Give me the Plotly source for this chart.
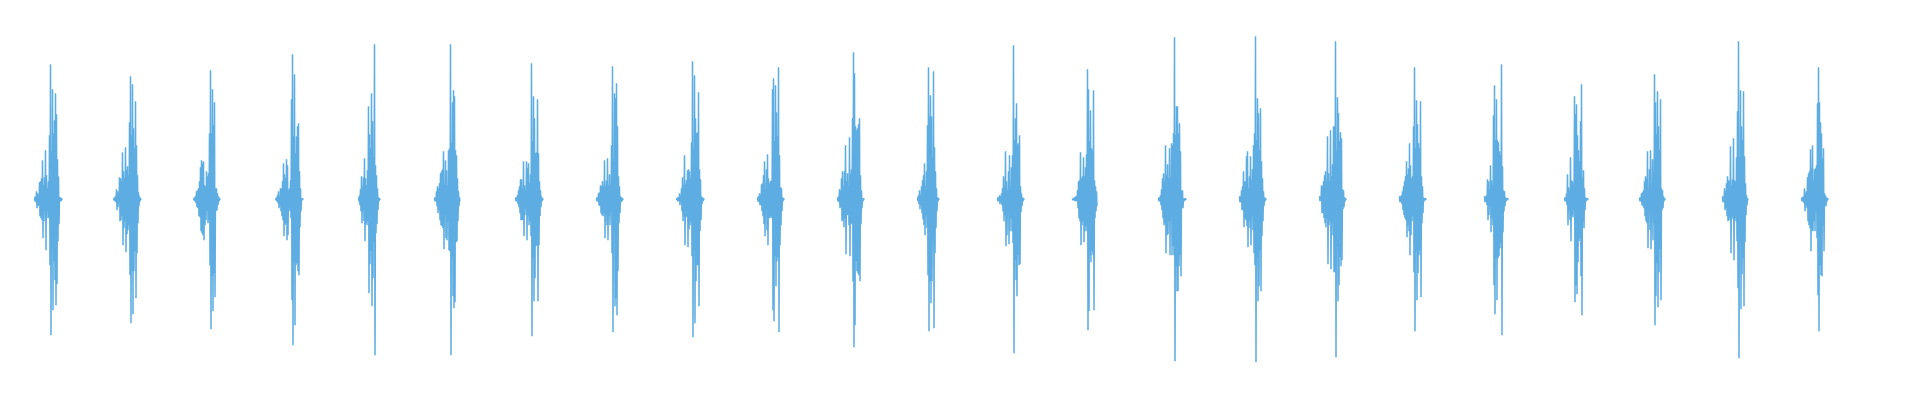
"""Waveform of 23 repeated bursts, drawn as a thin line."""

import plotly.graph_objects as go

# onset of each burst (time units, one unit per column)
onsets = [34, 113, 193, 275, 358, 434, 515, 596, 676, 757, 837, 917,
          997, 1072, 1158, 1239, 1319, 1399, 1484, 1564, 1639, 1722, 1801]

# signed sample values per burst (two samples per time unit)
burst_01 = [2, -2, 3, -3, 8, -9, 6, -7, 4, -6, 17, -17, 18, -19, 21, -21, 39, -39, 14, -12, 22, -22, 49, -51, 24, -12, 11, -19, 18, -18, 64, -66, 135, -136, 48, -49, 110, -111, 66, -62, 79, -81, 106, -106, 85, -85, 40, -42, 23, -25, 2, -2, 2, -2, 1, -1]
burst_02 = [1, -1, 2, -2, 3, -3, 10, -11, 8, -8, 4, -4, 22, -22, 21, -21, 18, -17, 47, -46, 28, -29, 21, -22, 52, -53, 29, -35, 33, -31, 24, -26, 77, -76, 123, -124, 64, -72, 115, -115, 71, -72, 51, -52, 98, -99, 54, -54, 24, -24, 7, -7, 3, -2, 1, -1]
burst_03 = [1, -1, 2, -2, 3, -4, 8, -8, 9, -9, 11, -17, 18, -18, 32, -32, 39, -34, 36, -36, 38, -41, 14, -26, 13, -21, 28, -12, 23, -24, 26, -21, 66, -66, 129, -130, 66, -77, 110, -112, 74, -74, 97, -98, 11, -12, 11, -11, 6, -6, 3, -2, 1, -1]
burst_04 = [1, -1, 2, -2, 4, -4, 8, -9, 3, -6, 11, -12, 11, -17, 18, -21, 36, -37, 25, -26, 21, -24, 40, -41, 34, -36, 9, -9, 11, -12, 19, -19, 100, -101, 145, -146, 63, -62, 125, -126, 46, -66, 63, -64, 73, -72, 76, -76, 28, -28, 11, -12, 1, -1, 1, -1]
burst_05 = [2, -2, 4, -6, 10, -12, 23, -24, 13, -12, 22, -22, 41, -42, 21, -24, 14, -26, 29, -22, 93, -94, 65, -65, 51, -52, 106, -107, 78, -79, 42, -42, 155, -156, 34, -34, 24, -25, 11, -11, 2, -2, 1, -1]
burst_06 = [2, -2, 2, -2, 8, -7, 13, -14, 11, -11, 16, -21, 26, -26, 28, -27, 30, -29, 48, -50, 14, -16, 39, -39, 29, -41, 14, -22, 49, -51, 51, -52, 155, -156, 56, -57, 97, -97, 109, -109, 103, -103, 49, -43, 44, -42, 21, -22, 8, -7, 2, -2]
burst_07 = [2, -2, 2, -2, 4, -5, 9, -8, 13, -14, 20, -21, 20, -21, 11, -21, 38, -37, 14, -16, 9, -9, 38, -41, 31, -17, 36, -26, 16, -22, 25, -37, 136, -137, 58, -58, 103, -102, 81, -79, 46, -47, 47, -46, 100, -102, 46, -46, 18, -17, 9, -8, 3, -2, 1, -1]
burst_08 = [2, -2, 2, -2, 6, -6, 7, -7, 14, -14, 13, -16, 18, -17, 13, -14, 39, -39, 13, -16, 19, -26, 41, -41, 14, -17, 25, -26, 9, -12, 54, -54, 133, -133, 38, -24, 106, -107, 101, -99, 116, -116, 73, -72, 23, -24, 13, -14, 3, -3, 2, -2, 1, -1]
burst_09 = [1, -1, 2, -2, 2, -2, 6, -6, 3, -3, 11, -12, 22, -22, 14, -17, 44, -46, 15, -17, 19, -18, 29, -48, 30, -30, 28, -26, 21, -22, 57, -57, 138, -138, 51, -52, 124, -124, 81, -82, 66, -66, 67, -66, 107, -107, 30, -32, 20, -21, 3, -5, 2, -2, 1, -1]
burst_10 = [2, -2, 3, -3, 6, -6, 4, -6, 15, -12, 16, -17, 24, -25, 38, -37, 9, -11, 30, -31, 45, -46, 21, -18, 16, -19, 18, -17, 19, -19, 110, -111, 121, -122, 58, -57, 114, -87, 87, -62, 63, -58, 132, -133, 44, -46, 12, -26, 11, -12, 2, -2, 1, -1]
burst_11 = [2, -2, 3, -3, 10, -9, 8, -8, 21, -22, 28, -21, 13, -28, 28, -19, 54, -55, 18, -16, 26, -16, 13, -26, 62, -57, 26, -24, 30, -25, 81, -82, 147, -148, 126, -126, 73, -62, 69, -72, 71, -74, 75, -76, 81, -82, 24, -25, 9, -9, 1, -2, 1, -1]
burst_12 = [2, -2, 4, -5, 9, -10, 4, -6, 13, -14, 19, -20, 24, -26, 36, -36, 13, -16, 28, -29, 74, -76, 132, -132, 83, -82, 104, -104, 83, -82, 41, -41, 128, -129, 52, -54, 28, -29, 11, -12, 2, -2, 1, -1]
burst_13 = [2, -2, 2, -2, 4, -5, 3, -3, 6, -6, 11, -12, 23, -22, 13, -16, 48, -47, 18, -36, 9, -11, 28, -45, 44, -32, 14, -19, 32, -32, 44, -44, 154, -154, 59, -61, 81, -81, 96, -97, 55, -56, 56, -66, 64, -65, 13, -13, 6, -7, 2, -2, 1, -1]
burst_14 = [1, -1, 1, -1, 2, -2, 3, -2, 3, -2, 9, -9, 18, -19, 19, -22, 47, -46, 21, -26, 23, -22, 42, -43, 23, -32, 32, -27, 45, -32, 130, -131, 110, -112, 58, -56, 89, -63, 51, -52, 49, -56, 109, -111, 19, -19, 13, -12, 8, -7]
burst_15 = [2, -2, 2, -2, 4, -6, 10, -11, 21, -19, 26, -26, 18, -24, 54, -54, 24, -36, 35, -35, 21, -22, 51, -56, 21, -19, 56, -56, 54, -47, 66, -56, 162, -162, 64, -67, 93, -92, 93, -92, 66, -67, 76, -56, 48, -77, 9, -8, 9, -9, 1, -2, 1, -1, 1, -1]
burst_16 = [3, -3, 3, -3, 9, -11, 13, -11, 28, -28, 18, -19, 18, -21, 43, -27, 48, -48, 11, -21, 23, -29, 43, -46, 19, -17, 30, -31, 54, -54, 66, -66, 163, -163, 59, -59, 101, -102, 86, -87, 49, -51, 91, -92, 38, -37, 21, -22, 8, -7, 2, -2, 1, -1]
burst_17 = [3, -2, 3, -2, 14, -14, 13, -14, 18, -19, 24, -24, 28, -28, 18, -19, 63, -65, 26, -26, 18, -22, 69, -70, 23, -24, 35, -36, 73, -73, 73, -73, 158, -158, 48, -48, 102, -102, 86, -86, 58, -58, 67, -67, 61, -61, 10, -10, 9, -8, 2, -2, 1, -1]
burst_18 = [3, -3, 3, -3, 4, -5, 8, -11, 13, -16, 18, -19, 23, -21, 38, -38, 25, -26, 31, -32, 56, -56, 34, -36, 21, -22, 23, -17, 73, -73, 132, -132, 51, -51, 99, -101, 75, -74, 56, -56, 51, -51, 98, -98, 23, -24, 13, -14, 2, -2, 1, -1, 1, -1]
burst_19 = [3, -3, 3, -3, 4, -6, 20, -21, 18, -16, 9, -7, 34, -33, 19, -19, 14, -26, 84, -86, 114, -115, 59, -59, 100, -101, 59, -59, 57, -57, 48, -49, 44, -44, 135, -136, 33, -33, 9, -12, 8, -7, 2, -2, 1, -1, 1, -1]
burst_20 = [2, -2, 2, -2, 6, -6, 25, -26, 12, -12, 9, -21, 42, -42, 19, -16, 18, -18, 10, -11, 103, -103, 85, -86, 95, -95, 64, -63, 49, -42, 38, -39, 78, -77, 115, -116, 21, -22, 29, -29, 11, -11, 2, -2, 1, -1, 1, -1]
burst_21 = [2, -2, 2, -2, 6, -6, 7, -7, 9, -9, 18, -17, 23, -22, 21, -24, 48, -49, 9, -11, 30, -31, 49, -50, 8, -9, 40, -41, 24, -24, 125, -126, 97, -97, 65, -64, 108, -108, 73, -73, 49, -50, 100, -101, 11, -11, 9, -9, 3, -2, 1, -1]
burst_22 = [3, -3, 3, -3, 11, -11, 8, -9, 16, -17, 23, -22, 19, -21, 18, -19, 53, -54, 14, -17, 20, -20, 61, -61, 19, -19, 18, -22, 42, -42, 88, -89, 158, -159, 42, -42, 109, -110, 73, -75, 59, -59, 108, -107, 43, -43, 16, -16, 4, -6, 1, -1]
burst_23 = [2, -2, 2, -2, 3, -4, 11, -12, 6, -7, 8, -9, 22, -22, 26, -26, 28, -29, 50, -52, 31, -31, 54, -32, 19, -22, 30, -32, 31, -12, 34, -39, 96, -96, 132, -132, 97, -66, 77, -76, 66, -77, 41, -26, 51, -52, 6, -6, 4, -7, 2, -2, 1, -1]

bursts = [burst_01, burst_02, burst_03, burst_04, burst_05, burst_06, burst_07, burst_08,
          burst_09, burst_10, burst_11, burst_12, burst_13, burst_14, burst_15, burst_16,
          burst_17, burst_18, burst_19, burst_20, burst_21, burst_22, burst_23]

SAMPLE_STEP = 0.5

xs, ys = [], []
for start, samples in zip(onsets, bursts):
    for i, v in enumerate(samples):
        xs.append(start + 0.5 + i * SAMPLE_STEP)
        ys.append(v)
    xs.append(None)
    ys.append(None)

fig = go.Figure(
    go.Scatter(
        x=xs,
        y=ys,
        mode="lines",
        line=dict(color="#5dade2", width=1.5),
        connectgaps=False,
        hoverinfo="skip",
    )
)
fig.update_layout(
    width=1920,
    height=400,
    margin=dict(l=0, r=0, t=0, b=0),
    paper_bgcolor="white",
    plot_bgcolor="white",
    showlegend=False,
    xaxis=dict(range=[0, 1920], visible=False, showgrid=False, zeroline=False),
    yaxis=dict(range=[-200.7, 199.3], visible=False, showgrid=False, zeroline=False),
)
# drop the browser's default body margin so the plot sits at the page origin
fig.write_html(
    "out.html",
    config={"displayModeBar": False},
    post_script="document.body.style.margin = '0';",
)
